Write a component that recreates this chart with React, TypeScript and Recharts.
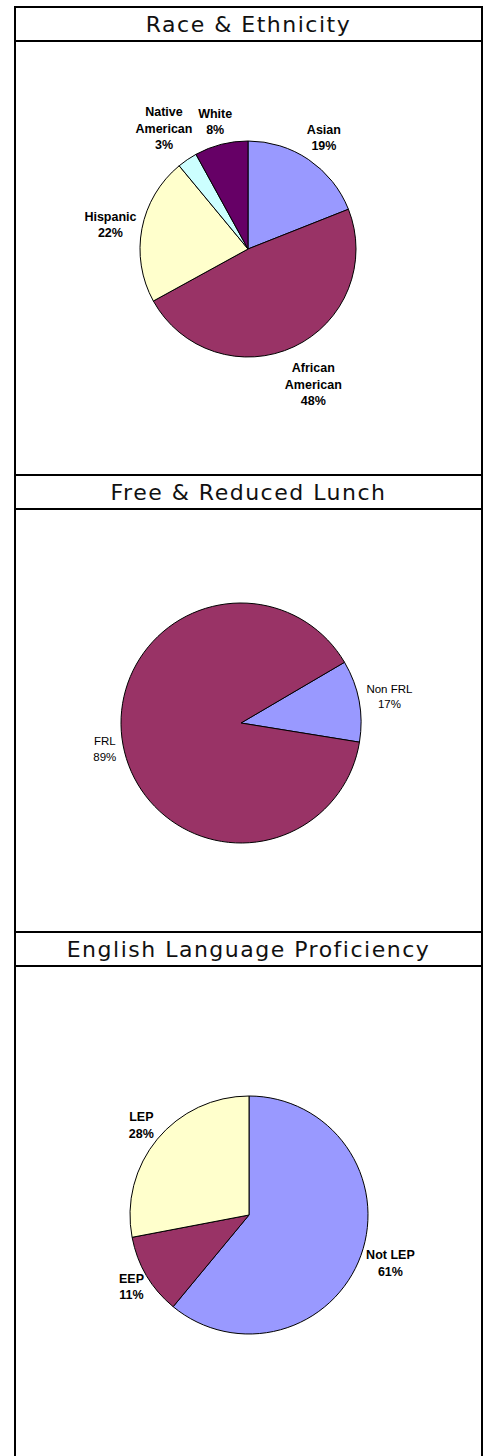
import React from "react";
import { PieChart, Pie, Cell } from "recharts";

// Race & Ethnicity
const RACE_NAMES = ["Asian", "African American", "Hispanic", "Native American", "White"];
const RACE_VALUES = [19, 48, 22, 3, 8];
const RACE_PCT = ["19%", "48%", "22%", "3%", "8%"];
const RACE_COLORS = ["#9999FF", "#993366", "#FFFFCC", "#CCFFFF", "#660066"];

// Free & Reduced Lunch (slice drawn ~11%, the label reads 17%)
const LUNCH_NAMES = ["Non FRL", "FRL"];
const LUNCH_VALUES = [11, 89];
const LUNCH_PCT = ["17%", "89%"];
const LUNCH_COLORS = ["#9999FF", "#993366"];

// English Language Proficiency
const LEP_NAMES = ["Not LEP", "EEP", "LEP"];
const LEP_VALUES = [61, 11, 28];
const LEP_PCT = ["61%", "11%", "28%"];
const LEP_COLORS = ["#9999FF", "#993366", "#FFFFCC"];

const WRAP = new Set(["African American", "Native American"]);
const LABEL_FONT = "'Liberation Sans', Arial, sans-serif";
const RAD = Math.PI / 180;

let ctx: CanvasRenderingContext2D | null = null;
function textWidth(s: string, font: string) {
  if (!ctx) ctx = document.createElement("canvas").getContext("2d");
  if (!ctx) return s.length * 7;
  ctx.font = font;
  return ctx.measureText(s).width;
}

interface BlockProps {
  title: string;
  names: string[];
  values: number[];
  pct: string[];
  colors: string[];
  height: number;
  cx: number;
  cy: number;
  r: number;
  start: number;
  gaps: number[];
  angles?: (number | null)[]; // clockwise from 12 o'clock, overrides label direction
  bold: boolean;
  fontSize: number;
  last?: boolean;
}

function PieBlock(p: BlockProps) {
  const data = p.names.map((name, i) => ({ name, value: p.values[i] }));
  const lh = p.fontSize + 4;
  const font = `${p.bold ? "bold " : ""}${p.fontSize}px ${LABEL_FONT}`;

  const renderLabel = (props: any) => {
    const i = props.index as number;
    const lines = [...(WRAP.has(p.names[i]) ? p.names[i].split(" ") : [p.names[i]]), p.pct[i]];
    const over = p.angles?.[i];
    const a = over != null ? 90 - over : props.midAngle;
    const ux = Math.cos(a * RAD);
    const uy = -Math.sin(a * RAD);
    const w = Math.max(...lines.map((l) => textWidth(l, font)));
    const h = lines.length * lh;
    const rr = props.outerRadius + p.gaps[i];
    const x = props.cx + rr * ux + (ux * w) / 2;
    const y = props.cy + rr * uy + (uy * h) / 2;
    return (
      <text
        key={`l${i}`}
        x={x}
        y={y}
        textAnchor="middle"
        fontFamily={LABEL_FONT}
        fontSize={p.fontSize}
        fontWeight={p.bold ? "bold" : "normal"}
        fill="#000"
      >
        {lines.map((l, k) => (
          <tspan key={k} x={x} y={y + (k - (lines.length - 1) / 2) * lh} dy="0.35em">
            {l}
          </tspan>
        ))}
      </text>
    );
  };

  return (
    <>
      <div
        style={{
          height: 32,
          borderBottom: "2px solid #000",
          display: "flex",
          alignItems: "center",
          justifyContent: "center",
          fontFamily: "'DejaVu Sans', sans-serif",
          fontWeight: 400,
          fontSize: 22,
          letterSpacing: 1.5,
          color: "#111",
        }}
      >
        {p.title}
      </div>
      <div style={{ height: p.height, borderBottom: p.last ? "none" : "2px solid #000" }}>
        <PieChart width={465} height={p.height} margin={{ top: 0, right: 0, bottom: 0, left: 0 }}>
          <Pie
            data={data}
            dataKey="value"
            nameKey="name"
            cx={p.cx}
            cy={p.cy}
            outerRadius={p.r}
            startAngle={p.start}
            endAngle={p.start - 360}
            stroke="#000"
            strokeWidth={1}
            labelLine={false}
            label={renderLabel}
            isAnimationActive={false}
          >
            {data.map((d, i) => (
              <Cell key={d.name} fill={p.colors[i]} stroke="#000" strokeWidth={1} />
            ))}
          </Pie>
        </PieChart>
      </div>
    </>
  );
}

export default function App() {
  return (
    <div
      style={{
        position: "absolute",
        left: 14,
        top: 6,
        width: 469,
        boxSizing: "border-box",
        border: "2px solid #000",
        borderBottom: "none",
        background: "#fff",
      }}
    >
      <PieBlock
        title="Race & Ethnicity"
        names={RACE_NAMES}
        values={RACE_VALUES}
        pct={RACE_PCT}
        colors={RACE_COLORS}
        height={432}
        cx={232}
        cy={207}
        r={108}
        start={90}
        gaps={[10, 17, 6, 13, 7]}
        bold
        fontSize={12.5}
      />
      <PieBlock
        title="Free & Reduced Lunch"
        names={LUNCH_NAMES}
        values={LUNCH_VALUES}
        pct={LUNCH_PCT}
        colors={LUNCH_COLORS}
        height={421}
        cx={225}
        cy={213}
        r={120}
        start={30.4}
        gaps={[8, 7]}
        bold={false}
        fontSize={11.5}
      />
      <PieBlock
        title="English Language Proficiency"
        names={LEP_NAMES}
        values={LEP_VALUES}
        pct={LEP_PCT}
        colors={LEP_COLORS}
        height={489}
        cx={233}
        cy={248}
        r={119}
        start={90}
        gaps={[7, 5, 7]}
        angles={[null, null, 309]}
        bold
        fontSize={12.5}
        last
      />
    </div>
  );
}
